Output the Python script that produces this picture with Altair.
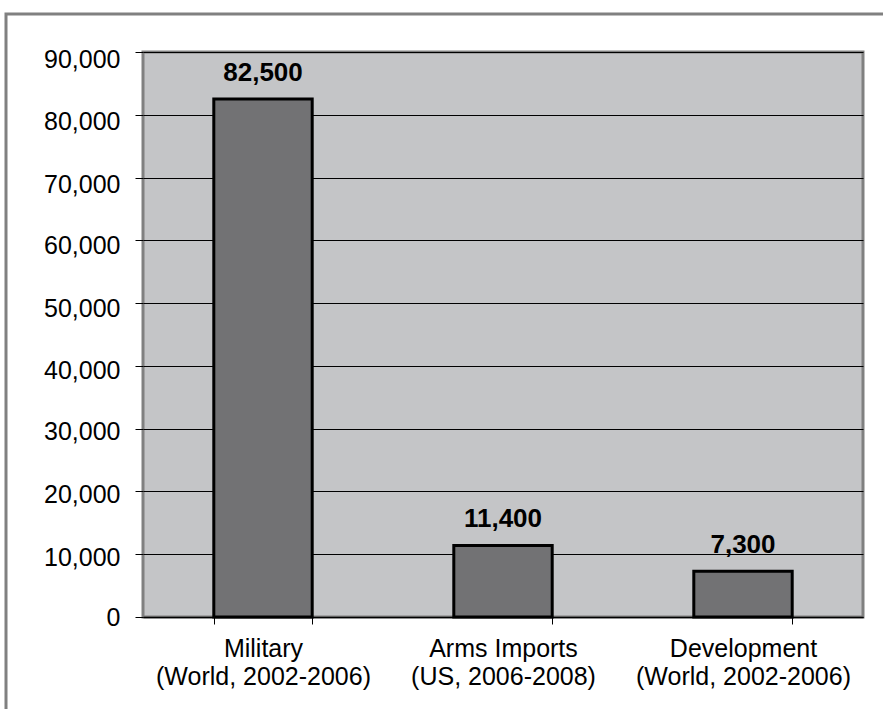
import altair as alt
import pandas as pd

categories = ["Military|(World, 2002-2006)", "Arms Imports|(US, 2006-2008)", "Development|(World, 2002-2006)"]
values = [82500, 11400, 7300]
y_ticks = [0, 10000, 20000, 30000, 40000, 50000, 60000, 70000, 80000, 90000]

df = pd.DataFrame({"cat": categories, "val": values})
FONT = "Liberation Sans"

x_scale = alt.Scale(paddingInner=0.59, paddingOuter=0.295)
y_scale = alt.Scale(domain=[0, 90000], nice=False)

x_enc = alt.X("cat:N", sort=categories, title=None, scale=x_scale,
              axis=alt.Axis(labelExpr="split(datum.label, '|')", labelAngle=0,
                            labelFont=FONT, labelFontSize=25, labelColor="black",
                            labelLineHeight=28, labelPadding=12, labelLimit=400,
                            tickBand="extent", tickColor="black", tickSize=7,
                            domainColor="black", domainWidth=1.5, grid=False))
y_enc = alt.Y("val:Q", title=None, scale=y_scale,
              axis=alt.Axis(values=y_ticks, format=",.0f", labelFont=FONT, labelFontSize=25,
                            labelColor="black", labelPadding=15, tickColor="black", tickSize=8,
                            labelOffset={"condition": [
                                {"test": "datum.value >= 70000", "value": 7},
                                {"test": "datum.value >= 40000", "value": 5},
                                {"test": "datum.value >= 10000", "value": 3}], "value": 0},
                            domain=False, grid=True, gridColor="black", gridWidth=1))

border = alt.Chart(alt.Data(values=[{}])).mark_rect(
    fill=None, stroke="#808080", strokeWidth=3
).encode(x=alt.value(-137), x2=alt.value(760), y=alt.value(-38), y2=alt.value(700))

bars = alt.Chart(df).mark_bar(color="#727274", stroke="black", strokeWidth=3).encode(
    x=x_enc, y=y_enc)

labels = alt.Chart(df).mark_text(
    font=FONT, fontSize=26, fontWeight="bold", color="black", baseline="alphabetic", dy=-18
).encode(x=x_enc, y=y_enc, text=alt.Text("val:Q", format=","))

chart = alt.layer(border, bars, labels).properties(
    width=720, height=565,
    padding={"left": 143, "top": 52, "right": 20, "bottom": 92},
    autosize=alt.AutoSizeParams(type="none"),
    background="white",
).configure_view(fill="#C4C5C7", stroke="#808080", strokeWidth=3)

chart.save("out.html", embed_options={"renderer": "svg", "actions": False})
